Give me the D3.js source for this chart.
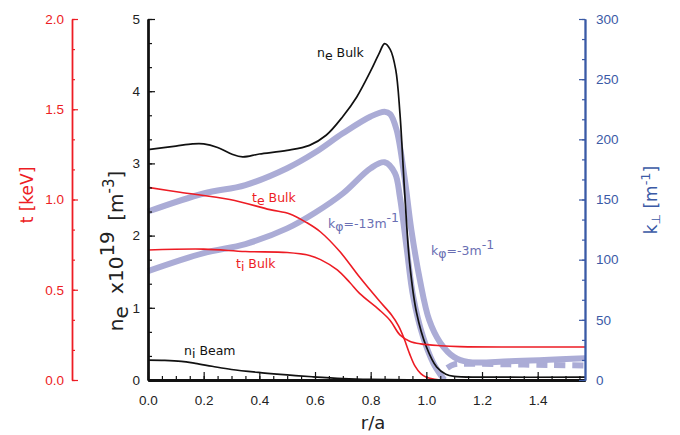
<!DOCTYPE html>
<html>
<head>
<meta charset="utf-8">
<script src="https://cdn.jsdelivr.net/npm/d3@7"></script>
<style>
  body { margin: 0; background: #fff; }
  svg text { font-family: "DejaVu Sans", sans-serif; }
  .tick text { font-family: "Liberation Sans", Arial, sans-serif; font-size: 13.5px; }
</style>
</head>
<body>
<svg id="chart" width="680" height="435"></svg>
<script>
// r/a positions and values
const rNe = [0, 0.1, 0.16, 0.2, 0.25, 0.3, 0.34, 0.4, 0.5, 0.58, 0.64, 0.7, 0.75, 0.8, 0.83, 0.85, 0.87, 0.89, 0.905, 0.923, 0.94, 0.965, 1.0, 1.037, 1.07, 1.1, 1.2, 1.57];
const neBulk = [3.19, 3.24, 3.27, 3.27, 3.22, 3.13, 3.09, 3.13, 3.18, 3.25, 3.39, 3.65, 3.92, 4.28, 4.52, 4.66, 4.58, 4.3, 3.7, 2.54, 1.62, 0.93, 0.46, 0.18, 0.08, 0.05, 0.04, 0.04];

const rBeam = [0, 0.06, 0.12, 0.17, 0.23, 0.3, 0.41, 0.5, 0.59, 0.7, 0.8, 1.0, 1.57];
const niBeam = [0.275, 0.272, 0.258, 0.23, 0.19, 0.145, 0.1, 0.07, 0.045, 0.02, 0.008, 0, 0];

const rTe = [0, 0.115, 0.294, 0.438, 0.51, 0.57, 0.62, 0.69, 0.76, 0.83, 0.875, 0.9, 0.92, 0.94, 0.96, 0.98, 1.0, 1.03, 1.07, 1.57];
const teBulk = [1.067, 1.04, 1.0, 0.944, 0.92, 0.872, 0.82, 0.71, 0.57, 0.44, 0.36, 0.3, 0.23, 0.145, 0.075, 0.035, 0.015, 0.004, 0, 0];

const rTi = [0, 0.2, 0.35, 0.5, 0.58, 0.62, 0.68, 0.725, 0.76, 0.83, 0.87, 0.905, 0.94, 0.98, 1.05, 1.12, 1.57];
const tiBulk = [0.72, 0.725, 0.712, 0.706, 0.69, 0.667, 0.61, 0.54, 0.48, 0.39, 0.33, 0.25, 0.215, 0.2, 0.19, 0.185, 0.183];

const rK3 = [0, 0.2, 0.35, 0.5, 0.6, 0.7, 0.8, 0.85, 0.87, 0.893, 0.923, 0.946, 0.977, 1.01, 1.05, 1.1, 1.15, 1.3, 1.57];
const kPhi3 = [140, 155, 162, 176, 189, 205, 219, 223, 221, 208, 166, 125, 83, 50, 31, 19, 15, 15.5, 18];

const rK13 = [0, 0.2, 0.35, 0.5, 0.6, 0.7, 0.8, 0.85, 0.887, 0.905, 0.929, 0.953, 0.988, 1.025, 1.055, 1.065];
const kPhi13 = [90.5, 105.5, 113, 126, 139, 155, 176, 181, 172, 152, 110, 69, 36, 14, 3, 0];

const rK13b = [1.075, 1.1, 1.15, 1.3, 1.45, 1.57];
const kPhi13b = [10, 13, 13.5, 13, 12.5, 12];

const xTicks = [0, 0.2, 0.4, 0.6, 0.8, 1.0, 1.2, 1.4];
const nTicks = [0, 1, 2, 3, 4, 5];
const tTicks = [0, 0.5, 1.0, 1.5, 2.0];
const kTicks = [0, 50, 100, 150, 200, 250, 300];

const red = '#ed1c24';
const blue = '#3b5aa6';
const lav = '#abacd6';
const kText = '#6a6fb3';

const svg = d3.select('#chart');

const x = d3.scaleLinear().domain([0, 1.57]).range([148, 585]);
const yN = d3.scaleLinear().domain([0, 5]).range([380, 19]);
const yT = d3.scaleLinear().domain([0, 2]).range([380, 19]);
const yK = d3.scaleLinear().domain([0, 300]).range([380, 19]);

const zip = (rs, vs) => rs.map((r, i) => [r, vs[i]]);
const lineFor = (yScale) => d3.line()
  .x(d => x(d[0]))
  .y(d => yScale(d[1]))
  .curve(d3.curveCatmullRom.alpha(0.5));

const curves = svg.append('g');

// lavender k_perp curves first, black and red on top
curves.append('path')
  .attr('d', lineFor(yK)(zip(rK13b, kPhi13b)))
  .attr('fill', 'none').attr('stroke', lav).attr('stroke-width', 6)
  .attr('stroke-dasharray', '11,7');
curves.append('path')
  .attr('d', lineFor(yK)(zip(rK3, kPhi3)))
  .attr('fill', 'none').attr('stroke', lav).attr('stroke-width', 6);
curves.append('path')
  .attr('d', lineFor(yK)(zip(rK13, kPhi13)))
  .attr('fill', 'none').attr('stroke', lav).attr('stroke-width', 6);

curves.append('path')
  .attr('d', lineFor(yN)(zip(rNe, neBulk)))
  .attr('fill', 'none').attr('stroke', '#111').attr('stroke-width', 1.7);
curves.append('path')
  .attr('d', lineFor(yN)(zip(rBeam, niBeam)))
  .attr('fill', 'none').attr('stroke', '#111').attr('stroke-width', 1.7);

curves.append('path')
  .attr('d', lineFor(yT)(zip(rTe, teBulk)))
  .attr('fill', 'none').attr('stroke', red).attr('stroke-width', 1.6);
curves.append('path')
  .attr('d', lineFor(yT)(zip(rTi, tiBulk)))
  .attr('fill', 'none').attr('stroke', red).attr('stroke-width', 1.6);

// ---- axes ----
const thirds = (lo, hi, n) => d3.range(0, n + 1).map(i => lo + (hi - lo) * i / n);

// bottom x axis, ticks pointing up
const gx = svg.append('g').attr('transform', 'translate(0,380)');
gx.call(d3.axisTop(x).tickValues(d3.range(0, 32).map(i => i * 0.05)).tickSize(4).tickSizeOuter(0).tickFormat(''));
gx.append('g').call(d3.axisTop(x).tickValues(xTicks).tickSize(8).tickSizeOuter(0).tickFormat(''));
gx.append('g').call(d3.axisBottom(x).tickValues(xTicks).tickSize(0).tickPadding(15).tickFormat(d3.format('.1f')));
gx.selectAll('.domain').attr('stroke', '#111').attr('stroke-width', 2.4);
gx.selectAll('line').attr('stroke', '#111').attr('stroke-width', 1.2);
gx.selectAll('.tick text').attr('fill', '#222');

// middle n axis
const gn = svg.append('g').attr('transform', 'translate(148,0)');
gn.call(d3.axisRight(yN).tickValues(thirds(0, 5, 15)).tickSize(4).tickSizeOuter(0).tickFormat(''));
gn.append('g').call(d3.axisRight(yN).tickValues(nTicks).tickSize(7).tickSizeOuter(0).tickFormat(''));
gn.append('g').call(d3.axisLeft(yN).tickValues(nTicks).tickSize(0).tickPadding(8).tickFormat(d3.format('d')));
gn.selectAll('.domain').attr('stroke', '#111').attr('stroke-width', 2);
gn.selectAll('line').attr('stroke', '#111').attr('stroke-width', 1.2);
gn.selectAll('.tick text').attr('fill', '#222');

// left red t axis
const gt = svg.append('g').attr('transform', 'translate(72,0)');
gt.call(d3.axisRight(yT).tickValues(thirds(0, 2, 12)).tickSize(3).tickSizeOuter(0).tickFormat(''));
gt.append('g').call(d3.axisRight(yT).tickValues(tTicks).tickSize(6).tickSizeOuter(0).tickFormat(''));
gt.append('g').call(d3.axisLeft(yT).tickValues(tTicks).tickSize(0).tickPadding(8).tickFormat(d3.format('.1f')));
gt.selectAll('.domain').attr('stroke', red).attr('stroke-width', 1.3);
gt.selectAll('line').attr('stroke', red).attr('stroke-width', 1.2);
gt.selectAll('.tick text').attr('fill', red);

// right blue k axis
const gk = svg.append('g').attr('transform', 'translate(585,0)');
gk.call(d3.axisLeft(yK).tickValues(thirds(0, 300, 18)).tickSize(3).tickSizeOuter(0).tickFormat(''));
gk.append('g').call(d3.axisLeft(yK).tickValues(kTicks).tickSize(6).tickSizeOuter(0).tickFormat(''));
gk.append('g').call(d3.axisRight(yK).tickValues(kTicks).tickSize(0).tickPadding(11).tickFormat(d3.format('d')));
gk.selectAll('.domain').attr('stroke', blue).attr('stroke-width', 1.6);
gk.selectAll('line').attr('stroke', blue).attr('stroke-width', 1.2);
gk.selectAll('.tick text').attr('fill', blue);

// ---- axis titles ----
svg.append('text')
  .attr('x', 373).attr('y', 429)
  .attr('text-anchor', 'middle').attr('font-size', 18).attr('fill', '#222')
  .text('r/a');

svg.append('text')
  .attr('transform', 'translate(33,195) rotate(-90)')
  .attr('text-anchor', 'middle').attr('font-size', 17).attr('fill', red)
  .text('t [keV]');

const nTitle = svg.append('text')
  .attr('transform', 'translate(123,251) rotate(-90)')
  .attr('text-anchor', 'middle').attr('font-size', 20).attr('fill', '#222');
nTitle.append('tspan').text('n');
nTitle.append('tspan').attr('dy', 5).text('e');
nTitle.append('tspan').attr('dy', -5).attr('dx', 6).text(' x10');
nTitle.append('tspan').attr('dy', -9).text('19');
nTitle.append('tspan').attr('dy', 9).attr('dx', 4).text(' [m');
nTitle.append('tspan').attr('dy', -9).attr('font-size', 15).text('-3');
nTitle.append('tspan').attr('dy', 9).text(']');

const kTitle = svg.append('text')
  .attr('transform', 'translate(657,200) rotate(-90)')
  .attr('text-anchor', 'middle').attr('font-size', 17).attr('fill', blue);
kTitle.append('tspan').text('k');
kTitle.append('tspan').attr('dy', 3).attr('font-size', 12).text('\u22A5');
kTitle.append('tspan').attr('dy', -3).text(' [m');
kTitle.append('tspan').attr('dy', -7).attr('font-size', 13).text('-1');
kTitle.append('tspan').attr('dy', 7).text(']');

// ---- curve labels ----
const label = (px, py, color, main, sub, rest, sup) => {
  const t = svg.append('text').attr('x', px).attr('y', py)
    .attr('font-size', 12.5).attr('fill', color);
  t.append('tspan').text(main);
  t.append('tspan').attr('dy', 3).text(sub);
  t.append('tspan').attr('dy', -3).text(rest);
  if (sup) t.append('tspan').attr('dy', -6).text(sup);
  return t;
};

label(317, 57, '#111', 'n', 'e', ' Bulk');
label(184, 355, '#111', 'n', 'i', ' Beam');
label(252, 202, red, 't', 'e', ' Bulk');
label(236, 268, red, 't', 'i', ' Bulk');
label(328, 228, kText, 'k', '\u03C6', '=-13m', '-1');
label(431, 255, kText, 'k', '\u03C6', '=-3m', '-1');
</script>
</body>
</html>
